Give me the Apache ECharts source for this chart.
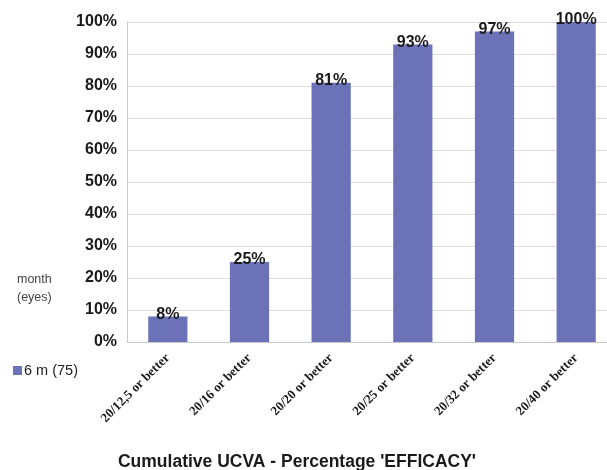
<!DOCTYPE html>
<html>
<head>
<meta charset="utf-8">
<script src="https://cdn.jsdelivr.net/npm/echarts@6/dist/echarts.min.js"></script>
<style>
  html, body { margin: 0; padding: 0; background: #fff; }
  #chart { width: 607px; height: 470px; }
</style>
</head>
<body>
<div id="chart"></div>
<script>
// Cumulative uncorrected visual acuity at 6 months
const categories = ['20/12,5 or better', '20/16 or better', '20/20 or better', '20/25 or better', '20/32 or better', '20/40 or better'];
const sixMonth = [8, 25, 81, 93, 97, 100];
const yTicks = [0, 10, 20, 30, 40, 50, 60, 70, 80, 90, 100];

const chart = echarts.init(document.getElementById('chart'), null, { renderer: 'canvas' });

chart.setOption({
  backgroundColor: '#ffffff',
  animation: false,
  title: {
    text: "Cumulative UCVA - Percentage 'EFFICACY'",
    left: 297,
    textAlign: 'center',
    top: 453,
    padding: 0,
    textStyle: { fontFamily: 'Liberation Sans', fontWeight: 'bold', fontSize: 17.5, color: '#1a1a1a' }
  },
  legend: {
    data: ['6 m (75)'],
    left: 8,
    top: 358,
    itemWidth: 9,
    itemHeight: 9,
    itemGap: 3,
    icon: 'rect',
    textStyle: { fontFamily: 'Liberation Sans', fontSize: 14.5, color: '#222', padding: [0, 0, 0, -3] }
  },
  graphic: [{
    type: 'text',
    left: 17,
    top: 271,
    style: {
      text: 'month\n(eyes)',
      font: '12.5px "Liberation Sans"',
      fill: '#444',
      textAlign: 'center',
      lineHeight: 18
    }
  }],
  // the plot runs a little past the right edge of the canvas
  grid: { left: 127, width: 490, top: 22, bottom: 128, containLabel: false, outerBoundsMode: 'none' },
  xAxis: {
    type: 'category',
    data: categories,
    axisLine: { lineStyle: { color: '#c8c8c8', width: 1 } },
    axisTick: { show: false },
    axisLabel: {
      rotate: 45,
      interval: 0,
      margin: 14,
      fontFamily: 'Liberation Serif',
      fontWeight: 'bold',
      fontSize: 13,
      color: '#1a1a1a'
    }
  },
  yAxis: {
    type: 'value',
    min: yTicks[0],
    max: yTicks[yTicks.length - 1],
    interval: 10,
    axisLine: { show: true, lineStyle: { color: '#c8c8c8', width: 1 } },
    axisTick: { show: false },
    splitLine: { lineStyle: { color: '#dcdcdc', width: 1 } },
    axisLabel: {
      formatter: '{value}%',
      margin: 10,
      fontFamily: 'Liberation Sans',
      fontWeight: 'bold',
      fontSize: 16,
      color: '#1a1a1a'
    }
  },
  series: [{
    name: '6 m (75)',
    type: 'bar',
    data: sixMonth,
    barWidth: '48%',
    itemStyle: { color: '#6b72b8' },
    label: {
      show: true,
      position: 'top',
      distance: -6,
      formatter: '{c}%',
      fontFamily: 'Liberation Sans',
      fontWeight: 'bold',
      fontSize: 16,
      color: '#1a1a1a'
    }
  }]
});
</script>
</body>
</html>
